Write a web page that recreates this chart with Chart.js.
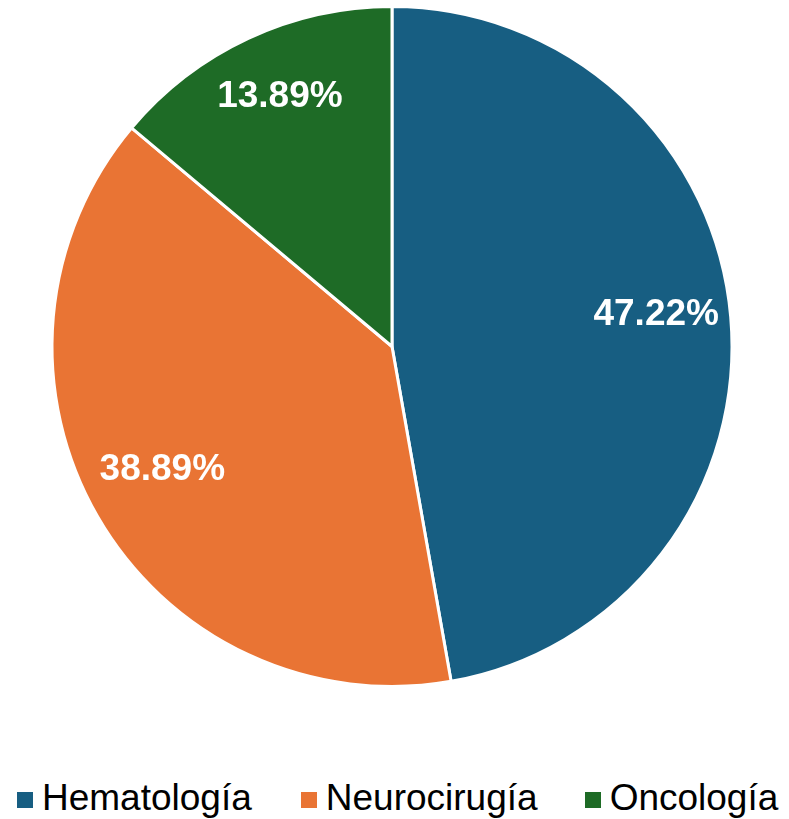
<!DOCTYPE html>
<html>
<head>
<meta charset="utf-8">
<script src="https://cdn.jsdelivr.net/npm/chart.js@4.4.0/dist/chart.umd.min.js"></script>
<style>
  html, body { margin: 0; padding: 0; background: #fff; }
  body { width: 789px; height: 819px; position: relative; overflow: hidden; font-family: "Liberation Sans", Arial, sans-serif; }
  #wrap { position: absolute; left: 0; top: 0; width: 789px; height: 694px; }
  #legend { position: absolute; left: 17px; top: 777px; display: flex; align-items: center; font-size: 37px; color: #000; white-space: nowrap; }
  .item { display: flex; align-items: center; }
  .box { width: 16px; height: 16px; margin-right: 9px; margin-top: 3px; }
</style>
</head>
<body>
<div id="wrap"><canvas id="pieChart"></canvas></div>
<div id="legend"></div>
<script>
// Chart data
const categories = ['Hematología', 'Neurocirugía', 'Oncología'];
const percentages = [47.22, 38.89, 13.89];
const sliceColors = ['#175E82', '#E97434', '#1E6B26'];
const itemGaps = [49, 47, 0];

// Percent labels inside each slice
const sliceLabels = {
    id: 'sliceLabels',
    afterDatasetsDraw(chart) {
        const ctx = chart.ctx;
        const meta = chart.getDatasetMeta(0);
        ctx.save();
        ctx.fillStyle = '#ffffff';
        ctx.font = 'bold 37px "Liberation Sans", Arial, sans-serif';
        ctx.textAlign = 'center';
        ctx.textBaseline = 'middle';
        meta.data.forEach((arc, i) => {
            const p = arc.getProps(['x', 'y', 'startAngle', 'endAngle', 'outerRadius'], true);
            const mid = (p.startAngle + p.endAngle) / 2;
            const r = p.outerRadius * 0.78;
            ctx.fillText(percentages[i].toFixed(2) + '%', p.x + Math.cos(mid) * r, p.y + Math.sin(mid) * r - 9);
        });
        ctx.restore();
    }
};

const ctx = document.getElementById('pieChart').getContext('2d');
const pieChart = new Chart(ctx, {
    type: 'pie',
    data: {
        labels: categories,
        datasets: [{
            data: percentages,
            backgroundColor: sliceColors,
            borderColor: '#ffffff',
            borderWidth: 3
        }]
    },
    options: {
        responsive: true,
        maintainAspectRatio: false,
        animation: false,
        layout: { padding: { top: 5, bottom: 6, left: 0, right: 5 } },
        plugins: {
            legend: { display: false },
            tooltip: { enabled: false }
        }
    },
    plugins: [sliceLabels]
});

// Legend below the pie
const legend = document.getElementById('legend');
legend.innerHTML = categories.map((c, i) => `
    <div class="item" style="margin-right:${itemGaps[i]}px">
        <span class="box" style="background:${sliceColors[i]}"></span>${c}
    </div>`).join('');
</script>
</body>
</html>
